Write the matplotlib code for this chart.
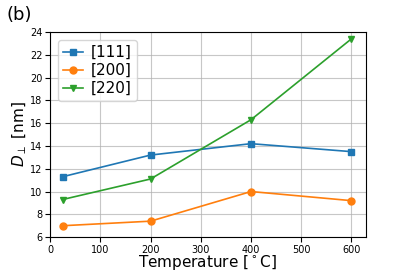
import matplotlib
matplotlib.use("Agg")
from matplotlib import pyplot as plt

temperature = [25, 200, 400, 600]
d_111 = [11.3, 13.2, 14.2, 13.5]
d_200 = [7.0, 7.4, 10.0, 9.2]
d_220 = [9.3, 11.1, 16.3, 23.4]

fig = plt.figure(figsize=(4.07, 2.71), dpi=100)
ax = fig.add_axes([0.123, 0.125, 0.776, 0.757])

ax.plot(temperature, d_111, marker='s', markersize=5, lw=1.2, label='[111]')
ax.plot(temperature, d_200, marker='o', markersize=5, lw=1.2, label='[200]')
ax.plot(temperature, d_220, marker='v', markersize=5, lw=1.2, label='[220]')

ax.set_xlim(0, None)
ax.set_ylim(6, 24)
ax.set_yticks(range(6, 25, 2))
ax.grid(True, color='#b0b0b0', lw=0.8, alpha=0.7)
ax.tick_params(labelsize=7, pad=2)
ax.set_xlabel(r'Temperature [$^\circ$C]', fontsize=11, labelpad=-1)
ax.set_ylabel(r'$D_\perp$ [nm]', fontsize=11, labelpad=1)
ax.legend(loc='upper left', fontsize=11, handlelength=1.3, borderpad=0.35,
          labelspacing=0.2, handletextpad=0.5, borderaxespad=0.5)

fig.text(0.015, 0.925, '(b)', fontsize=13)

fig.savefig('out.png', dpi=100)
